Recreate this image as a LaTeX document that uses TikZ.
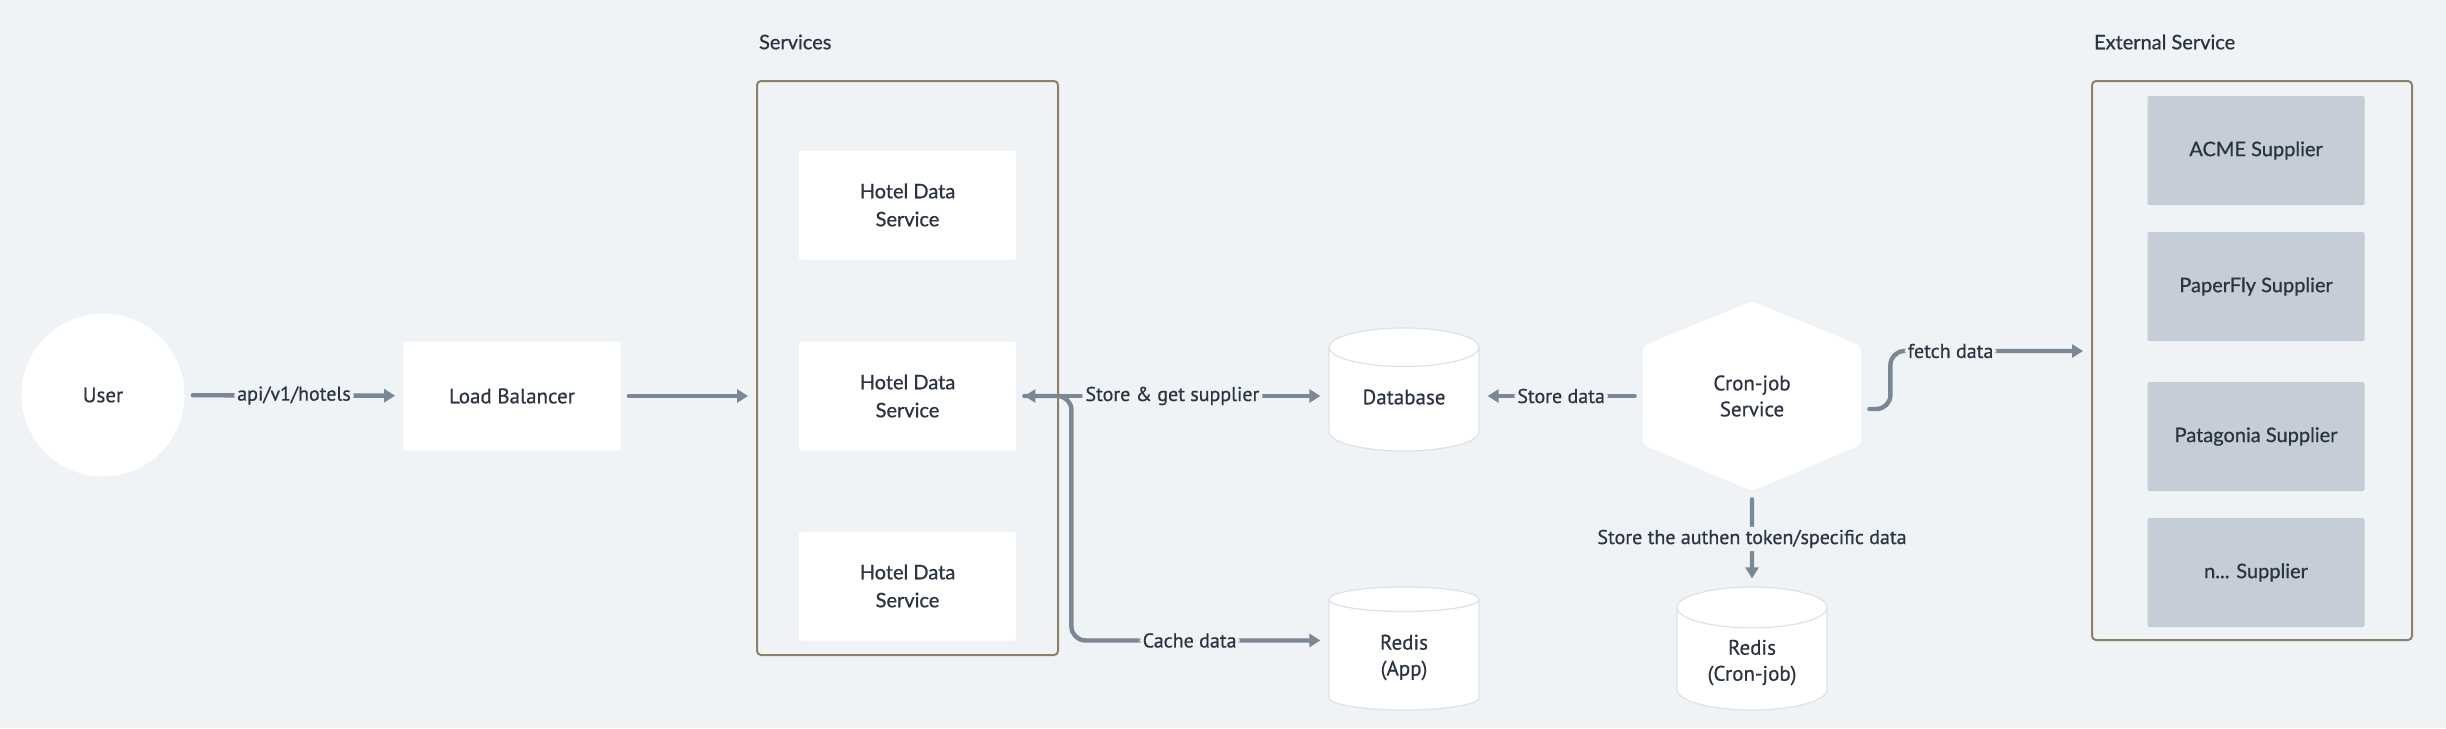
\documentclass[tikz,border=0pt]{standalone}
\usepackage{fontspec}
\setmainfont{Lato}[FakeBold=0.8]
\newfontfamily\dinfont{PT Sans}[FakeBold=0.6]
\usetikzlibrary{arrows.meta,shapes.geometric,calc}
\definecolor{bg}{HTML}{EFF3F6}
\definecolor{ink}{HTML}{2B3542}
\definecolor{wire}{HTML}{7B8794}
\definecolor{frame}{HTML}{8E8068}
\definecolor{supp}{HTML}{C5CED7}
\definecolor{rim}{HTML}{DCE2E8}

\begin{document}
\begin{tikzpicture}[x=0.5pt,y=-0.5pt,
    font=\fontsize{10}{14}\selectfont, text=ink,
    box/.style={fill=white, rounded corners=1pt, minimum width=108.5pt,
      minimum height=54.5pt, align=center},
    supplier/.style={box, fill=supp},
    group/.style={draw=frame, line width=1pt, rounded corners=2pt},
    dbase/.style={cylinder, shape border rotate=90, aspect=0.4, fill=white,
      draw=rim, line width=0.6pt, minimum width=75pt, minimum height=61.5pt,
      anchor=shape center, align=center, font=\dinfont\fontsize{10.5}{13}\selectfont},
    conn/.style={draw=wire, line width=2.2pt, line cap=round,
      >={Triangle[length=5.5pt,width=6.5pt]}, shorten >=4pt, shorten <=4pt,
      rounded corners=7pt},
    tag/.style={fill=bg, inner sep=1.5pt, font=\dinfont\fontsize{10}{12}\selectfont}]
  \fill[bg] (0,0) rectangle (2446,728);
  \useasboundingbox (0,0) rectangle (2446,728);

  \node[circle, fill=white, minimum size=81.5pt, font=\dinfont\fontsize{10.5}{13}\selectfont] (user) at (103,395) {User};
  \node[box, font=\dinfont\fontsize{10.5}{13}\selectfont] (lb) at (512,396) {Load Balancer};

  \node[anchor=west] (servicestitle) at (752,42) {Services};
  \node[group, minimum width=150.5pt, minimum height=287pt] (services) at (907.5,368) {};
  \node[box] (hds1) at (907.5,205) {Hotel Data\\Service};
  \node[box] (hds2) at (907.5,396) {Hotel Data\\Service};
  \node[box] (hds3) at (907.5,586) {Hotel Data\\Service};

  \node[dbase] (db) at (1404,389.5) {\raisebox{6.5pt}{Database}};
  \node[dbase] (redisapp) at (1404,648.5) {Redis\\(App)};
  \node[dbase] (rediscron) at (1752,648.5)
    {\raisebox{11pt}{\begin{tabular}{@{}c@{}}Redis\\(Cron-job)\end{tabular}}};

  \fill[white, rounded corners=3pt] (1752,301) -- (1861,346) -- (1861,445) -- (1752,491)
    -- (1643,445) -- (1643,346) -- cycle;
  \node[minimum width=109pt, minimum height=95pt, align=center,
    font=\dinfont\fontsize{10.5}{13}\selectfont] (cron) at (1752,396) {Cron-job\\Service};

  \node[anchor=west] (externaltitle) at (2087,42) {External Service};
  \node[group, minimum width=160pt, minimum height=279.5pt] (external) at (2252,360.5) {};
  \node[supplier] (acme) at (2256,150.5) {ACME Supplier};
  \node[supplier] (paperfly) at (2256,286.5) {PaperFly Supplier};
  \node[supplier] (patagonia) at (2256,436.5) {Patagonia Supplier};
  \node[supplier] (nsupplier) at (2256,572.5) {n... Supplier};

  \draw[conn,->] (user) -- node[tag] {api/v1/hotels} (lb);
  \draw[conn,->] (lb.east) -- (lb.east -| services.west);
  \draw[conn,->] (hds2.east) -- ++(55,0) |- node[tag,pos=0.73] {Cache data}
    ([yshift=8.5pt]redisapp.west);
  \draw[conn,<->] (hds2.east) -- node[tag] {Store \& get supplier} (hds2.east -| db.west);
  \draw[conn,->] (cron.west) -- node[tag] {Store data} (cron.west -| db.east);
  \draw[conn,->] (cron.south) -- node[tag] {Store the authen token/specific data} (rediscron.north);
  \draw[conn,->] ([yshift=-6.5pt]cron.east) -- ++(29,0) |- node[tag,pos=0.65] {fetch data}
    ([yshift=4.75pt]external.west);
\end{tikzpicture}
\end{document}
